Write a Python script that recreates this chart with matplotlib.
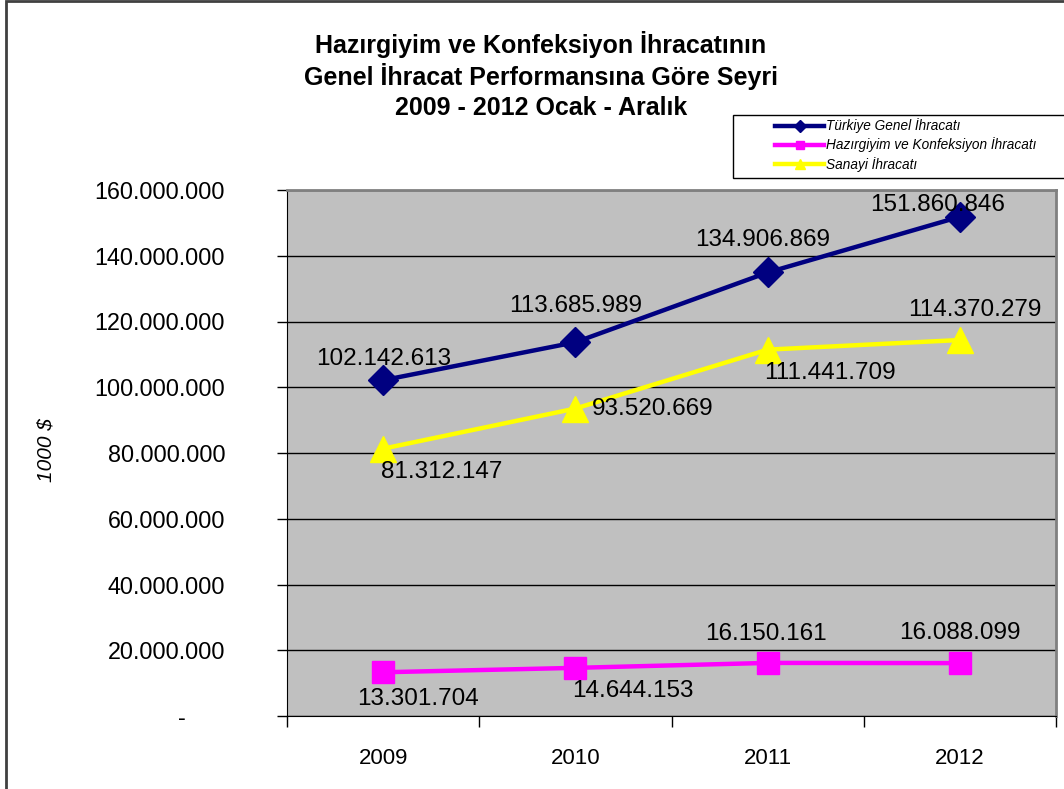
import matplotlib
matplotlib.use("Agg")
import matplotlib.pyplot as plt
from matplotlib.patches import Rectangle
from matplotlib.lines import Line2D
from matplotlib.ticker import FuncFormatter, FixedLocator

plt.rcParams['font.family'] = ['Liberation Sans', 'DejaVu Sans']

years = ["2009", "2010", "2011", "2012"]
genel = [102142613, 113685989, 134906869, 151860846]
hazir = [13301704, 14644153, 16150161, 16088099]
sanayi = [81312147, 93520669, 111441709, 114370279]
series_names = ["Türkiye Genel İhracatı", "Hazırgiyim ve Konfeksiyon İhracatı", "Sanayi İhracatı"]
title_lines = ["Hazırgiyim ve Konfeksiyon İhracatının",
               "Genel İhracat Performansına Göre Seyri",
               "2009 - 2012 Ocak - Aralık"]
y_label = "1000 $"

W, H = 1064, 789
fig = plt.figure(figsize=(W / 100, H / 100), dpi=100)

def fx(px):
    return px / W

def fy(py):
    return 1 - py / H

# outer chart border
fig.patches.append(Rectangle((fx(6), fy(800)), fx(1100) - fx(6), fy(1) - fy(800),
                             transform=fig.transFigure, fill=False,
                             edgecolor="#404040", lw=2, zorder=0))

ax = fig.add_axes([fx(287), fy(716), fx(1056) - fx(287), fy(190) - fy(716)])
ax.set_facecolor("#C0C0C0")
x = list(range(len(years)))
ax.set_xlim(-0.5, len(years) - 0.5)
ax.set_ylim(0, 160000000)

ax.set_yticks(range(0, 160000001, 20000000))
ax.yaxis.grid(True, color="black", lw=1)
ax.set_axisbelow(True)

def fmt(v, pos=None):
    if v == 0:
        return "-      "
    return f"{int(round(v)):,}".replace(",", ".")

ax.yaxis.set_major_formatter(FuncFormatter(fmt))
ax.tick_params(axis="y", direction="out", length=7, width=1, pad=37.5, labelsize=16.8)

ax.set_xticks(x)
ax.set_xticklabels(years)
ax.xaxis.set_minor_locator(FixedLocator([-0.5, 0.5, 1.5, 2.5, 3.5]))
ax.tick_params(axis="x", which="major", length=0, pad=23, labelsize=16)
ax.tick_params(axis="x", which="minor", direction="out", length=8, width=1)

for s in ["top", "right"]:
    ax.spines[s].set_color("#808080")
    ax.spines[s].set_linewidth(2)
ax.spines["left"].set_color("black")
ax.spines["bottom"].set_color("black")

ax.plot(x, genel, color="#000080", lw=3.2, marker="D", markersize=15, clip_on=False, zorder=3)
ax.plot(x, hazir, color="#FF00FF", lw=3.2, marker="s", markersize=16, clip_on=False, zorder=3)
ax.plot(x, sanayi, color="#FFFF00", lw=3.2, marker="^", markersize=19, clip_on=False, zorder=3)

lab_kw = dict(textcoords="offset pixels", ha="center", va="center", fontsize=17.5, color="black", zorder=4)
genel_off = [(1, 21), (0, 36), (-5, 32), (-22, 12)]
sanayi_off = [(59, -23), (77, 0), (62, -23), (15, 30)]
hazir_off = [(35, -27), (58, -23), (-2, 29), (0, 30)]
for i in x:
    ax.annotate(fmt(genel[i]), (i, genel[i]), xytext=genel_off[i], **lab_kw)
    ax.annotate(fmt(sanayi[i]), (i, sanayi[i]), xytext=sanayi_off[i], **lab_kw)
    ax.annotate(fmt(hazir[i]), (i, hazir[i]), xytext=hazir_off[i], **lab_kw)

# titles
for j, t in enumerate(title_lines):
    fig.text(fx(541), fy(44 + 32 * j), t, ha="center", va="center",
             fontsize=18, fontweight="bold")

fig.text(fx(46), fy(450), y_label, rotation=90, ha="center", va="center",
         fontsize=15, style="italic")

# legend box
fig.patches.append(Rectangle((fx(733), fy(178)), fx(1100) - fx(733), fy(115) - fy(178),
                             transform=fig.transFigure, facecolor="white",
                             edgecolor="black", lw=1, zorder=1))
handles = [
    Line2D([], [], color="#000080", lw=3.2, marker="D", markersize=6),
    Line2D([], [], color="#FF00FF", lw=3.2, marker="s", markersize=6),
    Line2D([], [], color="#FFFF00", lw=3.2, marker="^", markersize=7),
]
leg = fig.legend(handles, series_names, loc="upper left",
                 bbox_to_anchor=(fx(770), fy(113)), frameon=False,
                 prop={"size": 9.8, "style": "italic"}, handlelength=3.6,
                 handletextpad=0.15, labelspacing=0.3, borderaxespad=0)
leg.set_zorder(2)

fig.savefig("out.png", dpi=100)
